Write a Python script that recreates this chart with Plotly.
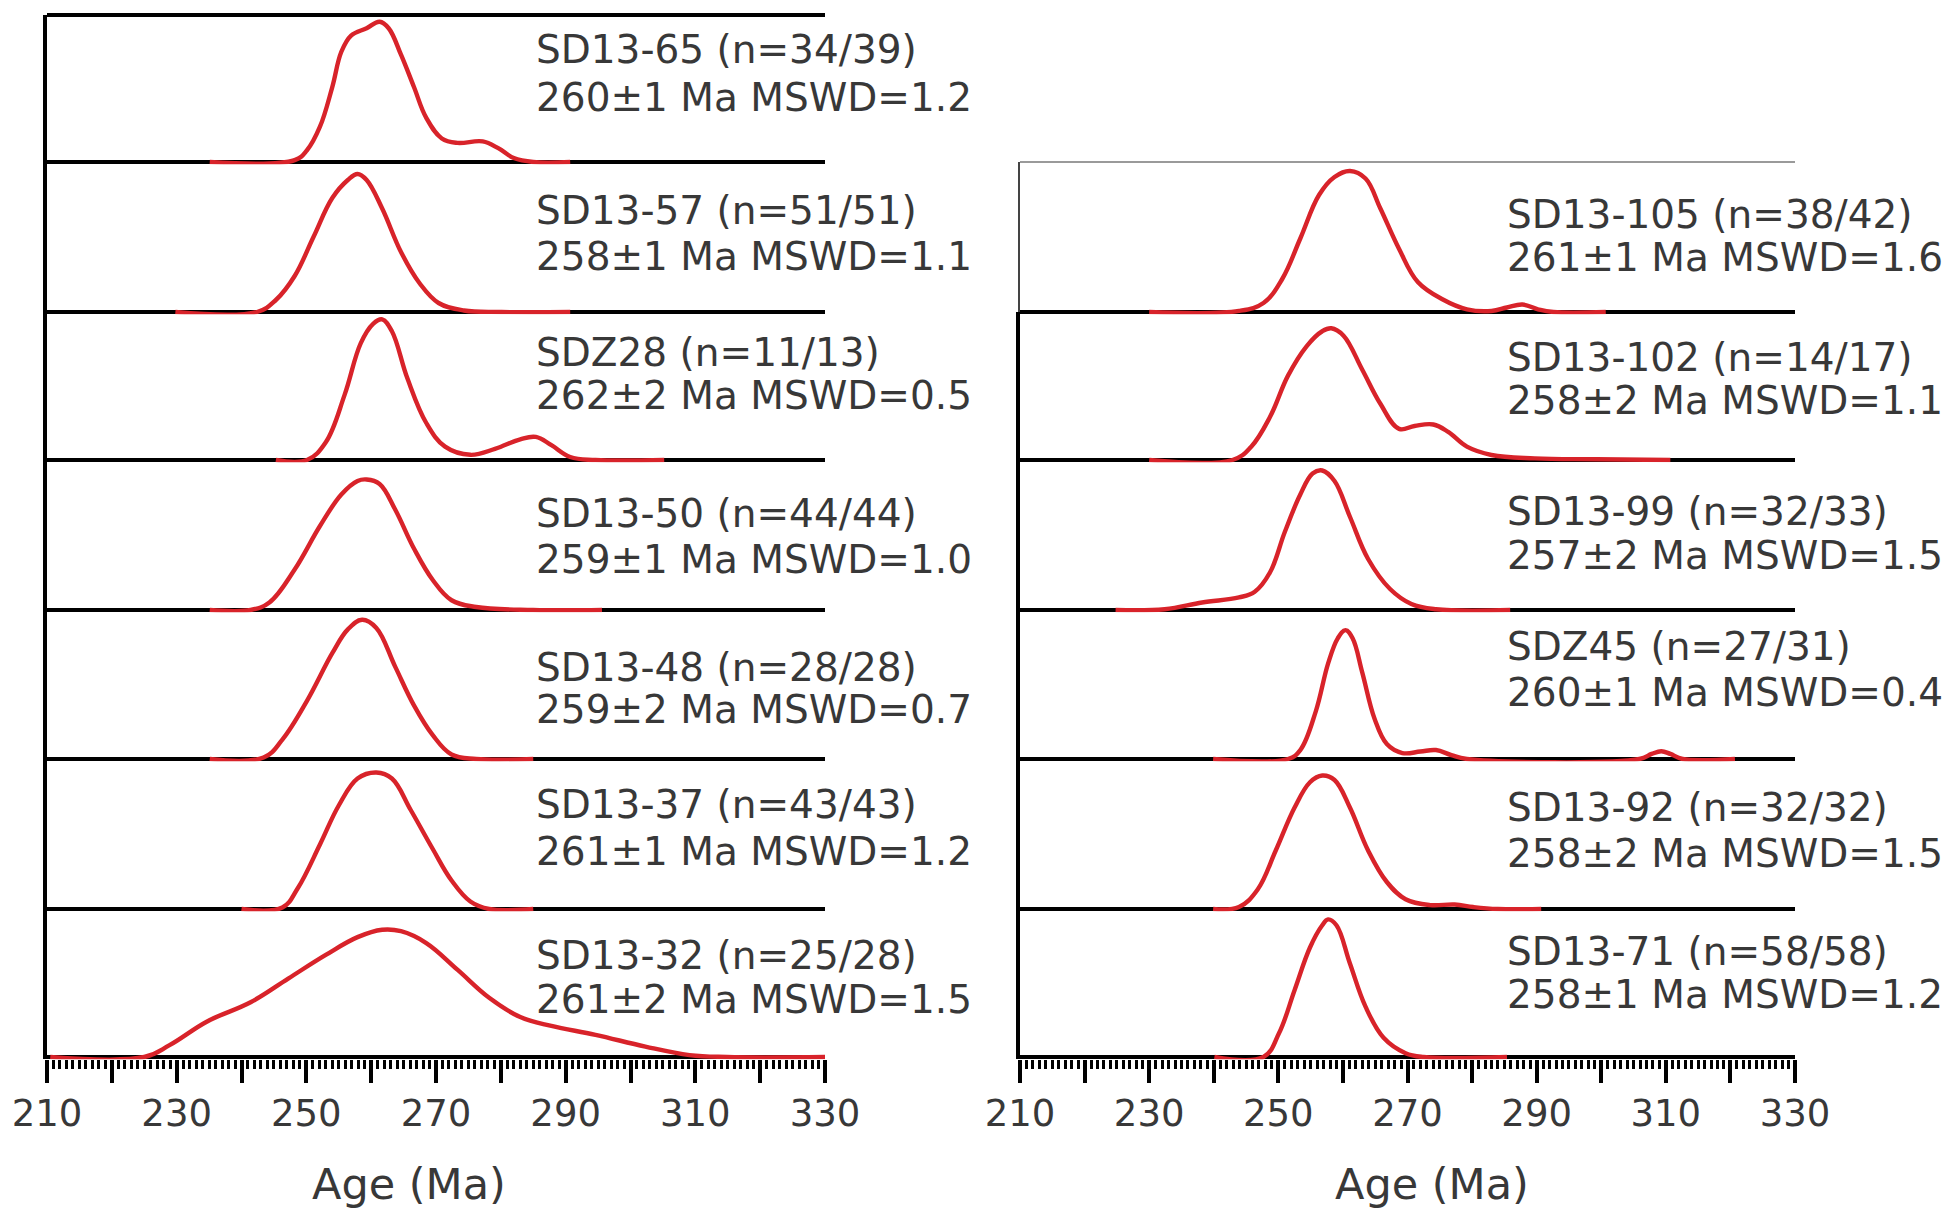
import plotly.graph_objects as go

# ---------------- data ----------------
left_samples = ["SD13-65", "SD13-57", "SDZ28", "SD13-50", "SD13-48", "SD13-37", "SD13-32"]
left_line1 = ["SD13-65 (n=34/39)", "SD13-57 (n=51/51)", "SDZ28 (n=11/13)", "SD13-50 (n=44/44)",
              "SD13-48 (n=28/28)", "SD13-37 (n=43/43)", "SD13-32 (n=25/28)"]
left_line2 = ["260±1 Ma MSWD=1.2", "258±1 Ma MSWD=1.1", "262±2 Ma MSWD=0.5", "259±1 Ma MSWD=1.0",
              "259±2 Ma MSWD=0.7", "261±1 Ma MSWD=1.2", "261±2 Ma MSWD=1.5"]

right_samples = ["SD13-105", "SD13-102", "SD13-99", "SDZ45", "SD13-92", "SD13-71"]
right_line1 = ["SD13-105 (n=38/42)", "SD13-102 (n=14/17)", "SD13-99 (n=32/33)", "SDZ45 (n=27/31)",
               "SD13-92 (n=32/32)", "SD13-71 (n=58/58)"]
right_line2 = ["261±1 Ma MSWD=1.6", "258±2 Ma MSWD=1.1", "257±2 Ma MSWD=1.5", "260±1 Ma MSWD=0.4",
               "258±2 Ma MSWD=1.5", "258±1 Ma MSWD=1.2"]

# relative probability curves: age (Ma) and relative density (fraction of panel height)
sd13_65_age = [235.1, 248.2, 250.1, 252.1, 254.0, 255.4, 256.9, 259.3, 261.3, 262.7, 264.6, 266.6, 268.5, 270.9, 273.3, 277.2, 279.6, 282.0, 285.0, 290.7]
sd13_65_pdf = [0, 0.013, 0.08, 0.24, 0.51, 0.75, 0.86, 0.91, 0.954, 0.91, 0.73, 0.51, 0.30, 0.16, 0.13, 0.14, 0.094, 0.027, 0, 0]

sd13_57_age = [229.8, 242.4, 245.3, 248.2, 251.1, 254.0, 256.4, 257.9, 259.3, 261.7, 264.6, 267.5, 270.4, 274.3, 280.1, 290.7]
sd13_57_pdf = [0, 0, 0.08, 0.24, 0.50, 0.76, 0.88, 0.92, 0.88, 0.69, 0.40, 0.19, 0.06, 0.01, 0, 0]

sdz28_age = [245.3, 250.1, 253.0, 255.9, 258.4, 260.3, 261.7, 263.2, 265.6, 268.5, 271.4, 275.3, 279.1, 283.0, 285.4, 287.8, 290.7, 294.6, 305.2]
sdz28_pdf = [0, 0, 0.12, 0.44, 0.79, 0.92, 0.95, 0.87, 0.55, 0.25, 0.09, 0.035, 0.075, 0.14, 0.156, 0.10, 0.02, 0, 0]

sd13_50_age = [235.1, 241.4, 244.3, 248.2, 252.1, 255.4, 257.9, 259.3, 261.3, 263.7, 266.6, 269.5, 272.4, 276.2, 285.0, 295.6]
sd13_50_pdf = [0, 0, 0.05, 0.27, 0.56, 0.77, 0.86, 0.87, 0.84, 0.67, 0.41, 0.20, 0.065, 0.02, 0, 0]

sd13_48_age = [235.1, 243.4, 246.3, 250.1, 254.0, 256.4, 258.6, 260.8, 263.7, 266.6, 269.5, 272.4, 276.2, 285.0]
sd13_48_pdf = [0, 0.01, 0.13, 0.39, 0.71, 0.87, 0.935, 0.88, 0.62, 0.36, 0.16, 0.03, 0, 0]

sd13_37_age = [240.0, 246.3, 248.7, 252.1, 255.0, 257.9, 260.8, 263.2, 266.1, 269.5, 272.4, 275.3, 278.2, 285.0]
sd13_37_pdf = [0, 0.01, 0.14, 0.43, 0.69, 0.87, 0.91, 0.87, 0.66, 0.40, 0.19, 0.05, 0, 0]

sd13_32_age = [210.5, 225.0, 228.9, 234.7, 241.4, 247.2, 253.0, 257.9, 261.7, 264.6, 268.5, 273.3, 278.2, 283.0, 287.8, 294.6, 302.3, 309.1, 314.9, 330.0]
sd13_32_pdf = [0, 0, 0.08, 0.24, 0.37, 0.53, 0.69, 0.81, 0.86, 0.85, 0.77, 0.59, 0.40, 0.27, 0.21, 0.15, 0.07, 0.013, 0, 0]

sd13_105_age = [230.0, 243.9, 247.7, 250.6, 253.4, 256.3, 258.7, 261.1, 263.5, 265.8, 268.7, 271.6, 275.4, 279.2, 283.0, 285.4, 287.8, 290.2, 292.6, 300.7]
sd13_105_pdf = [0, 0.007, 0.06, 0.22, 0.49, 0.78, 0.90, 0.94, 0.89, 0.69, 0.42, 0.20, 0.085, 0.018, 0.007, 0.03, 0.05, 0.018, 0, 0]

sd13_102_age = [230.0, 242.9, 245.8, 248.7, 251.5, 254.4, 256.8, 258.2, 260.1, 263.0, 265.8, 268.7, 271.1, 274.0, 276.3, 279.2, 283.0, 289.7, 299.2, 310.7]
sd13_102_pdf = [0, 0, 0.09, 0.29, 0.57, 0.77, 0.87, 0.89, 0.84, 0.61, 0.38, 0.21, 0.23, 0.24, 0.19, 0.09, 0.034, 0.011, 0.005, 0]

sd13_99_age = [224.8, 232.4, 238.2, 243.9, 246.3, 248.7, 251.0, 253.4, 255.3, 256.8, 258.7, 261.1, 263.9, 267.3, 270.6, 274.4, 285.9]
sd13_99_pdf = [0, 0.005, 0.05, 0.084, 0.12, 0.25, 0.52, 0.77, 0.91, 0.93, 0.86, 0.62, 0.34, 0.14, 0.04, 0.005, 0]

sdz45_age = [239.9, 251.5, 253.4, 255.8, 257.7, 259.2, 260.4, 261.5, 263.0, 264.9, 266.8, 269.2, 272.0, 274.4, 276.8, 279.2, 305.9, 307.8, 309.3, 310.7, 312.6, 320.7]
sdz45_pdf = [0, 0, 0.06, 0.32, 0.64, 0.81, 0.865, 0.81, 0.58, 0.27, 0.10, 0.04, 0.05, 0.06, 0.026, 0, 0, 0.034, 0.052, 0.034, 0, 0]

sd13_92_age = [239.9, 243.9, 246.8, 249.6, 252.5, 254.9, 256.8, 258.7, 261.1, 263.9, 266.8, 269.7, 273.5, 277.3, 280.2, 284.0, 290.7]
sd13_92_pdf = [0, 0.013, 0.13, 0.39, 0.675, 0.845, 0.89, 0.86, 0.675, 0.39, 0.18, 0.065, 0.026, 0.03, 0.013, 0, 0]

sd13_71_age = [240.1, 247.7, 250.1, 252.5, 254.9, 256.8, 257.7, 259.0, 261.1, 263.5, 266.3, 269.7, 272.5, 285.4]
sd13_71_pdf = [0, 0, 0.16, 0.45, 0.74, 0.89, 0.93, 0.89, 0.63, 0.34, 0.13, 0.026, 0, 0]

age_ticks = [210, 220, 230, 240, 250, 260, 270, 280, 290, 300, 310, 320, 330]
age_tick_text = ["210", "", "230", "", "250", "", "270", "", "290", "", "310", "", "330"]

left_curves = [(sd13_65_age, sd13_65_pdf), (sd13_57_age, sd13_57_pdf), (sdz28_age, sdz28_pdf),
               (sd13_50_age, sd13_50_pdf), (sd13_48_age, sd13_48_pdf), (sd13_37_age, sd13_37_pdf),
               (sd13_32_age, sd13_32_pdf)]
right_curves = [(sd13_105_age, sd13_105_pdf), (sd13_102_age, sd13_102_pdf), (sd13_99_age, sd13_99_pdf),
                (sdz45_age, sdz45_pdf), (sd13_92_age, sd13_92_pdf), (sd13_71_age, sd13_71_pdf)]

# ---------------- layout (pixels) ----------------
W, H = 1944, 1211
LEFT_X = (47, 825)
RIGHT_X = (1020, 1795)
left_edges = [15, 162, 312, 460, 610, 759, 909, 1057]
right_edges = [162, 312, 460, 610, 759, 909, 1057]
# text offsets (px below panel top) for line 1 / line 2 centres
left_text_off = [(34, 82), (48, 94), (41, 84), (53, 99), (57, 100), (46, 92), (46, 90)]
right_text_off = [(52, 95), (46, 89), (51, 95), (36, 82), (48, 94), (42, 86)]
TEXT_X_LEFT = 534
TEXT_X_RIGHT = 1505
AXIS_TITLE_X = [0.465, 0.532]
PAD = 0.015
RED = "#d8232a"
TXT = "#383838"
FONT = "DejaVu Sans"

fig = go.Figure()
layout = dict(
    width=W, height=H, margin=dict(l=0, r=0, t=0, b=0, autoexpand=False),
    paper_bgcolor="white", plot_bgcolor="rgba(0,0,0,0)", showlegend=False,
)
annotations = []
shapes = []


def px2py(p):
    return 1 - p / H


panel_id = [0]


def add_column(col, curves, edges, xpx, line1, line2, offs, text_x, top_style):
    n = len(curves)
    for i in range(n):
        panel_id[0] += 1
        k = panel_id[0]
        xa = "xaxis" if k == 1 else f"xaxis{k}"
        ya = "yaxis" if k == 1 else f"yaxis{k}"
        xr = "x" if k == 1 else f"x{k}"
        yr = "y" if k == 1 else f"y{k}"
        t, b = edges[i], edges[i + 1]
        hp = b - t
        bottom = (i == n - 1)
        age, pdf = curves[i]
        fig.add_trace(go.Scatter(
            x=age, y=pdf, mode="lines", xaxis=xr, yaxis=yr,
            line=dict(color=RED, width=4.4, shape="spline", smoothing=1.1),
            hoverinfo="skip"))
        xdict = dict(domain=[xpx[0] / W, xpx[1] / W], range=[210, 330], anchor=yr,
                     showgrid=False, zeroline=False, showline=False, fixedrange=True,
                     automargin=False)
        if bottom:
            xdict.update(
                visible=True, tickmode="array", tickvals=age_ticks, ticktext=age_tick_text,
                ticks="outside", ticklen=23, tickwidth=4, tickcolor="black",
                tickfont=dict(family=FONT, size=37, color=TXT), ticklabelstandoff=-2,
                minor=dict(dtick=1, ticks="outside", ticklen=9, tickwidth=3, tickcolor="black",
                           showgrid=False))
        else:
            xdict.update(visible=False)
        layout[xa] = xdict
        ylw, ylc = 4, "black"
        if i == 0 and top_style == "thin":
            ylw, ylc = 2, "#444444"
        layout[ya] = dict(domain=[px2py(b + PAD * hp), px2py(t)], range=[-PAD, 1.0], anchor=xr,
                          showgrid=False, showticklabels=False, ticks="", automargin=False,
                          showline=True, linewidth=ylw, linecolor=ylc,
                          zeroline=True, zerolinecolor="black", zerolinewidth=4, fixedrange=True)
        # labels
        annotations.append(dict(x=text_x / W, y=px2py(t + offs[i][0]), xref="paper", yref="paper",
                                text=line1[i], showarrow=False, xanchor="left", yanchor="middle",
                                font=dict(family=FONT, size=39, color=TXT)))
        annotations.append(dict(x=text_x / W, y=px2py(t + offs[i][1]), xref="paper", yref="paper",
                                text=line2[i], showarrow=False, xanchor="left", yanchor="middle",
                                font=dict(family=FONT, size=39, color=TXT)))
        if i == 0:
            if top_style == "thick":
                shapes.append(dict(type="line", xref=f"{xr} domain", yref=f"{yr} domain",
                                   x0=0, x1=1, y0=1, y1=1, line=dict(color="black", width=4)))
            else:
                shapes.append(dict(type="line", xref=f"{xr} domain", yref=f"{yr} domain",
                                   x0=0, x1=1, y0=1, y1=1, line=dict(color="#9a9a9a", width=2)))
        if bottom:
            annotations.append(dict(x=AXIS_TITLE_X[col], y=px2py(1184), xref=f"{xr} domain", yref="paper",
                                    text="Age (Ma)", showarrow=False, xanchor="center", yanchor="middle",
                                    font=dict(family=FONT, size=43, color=TXT)))


add_column(0, left_curves, left_edges, LEFT_X, left_line1, left_line2, left_text_off, TEXT_X_LEFT, "thick")
add_column(1, right_curves, right_edges, RIGHT_X, right_line1, right_line2, right_text_off, TEXT_X_RIGHT, "thin")

layout["annotations"] = annotations
layout["shapes"] = shapes
fig.update_layout(**layout)
fig.write_html("out.html")
